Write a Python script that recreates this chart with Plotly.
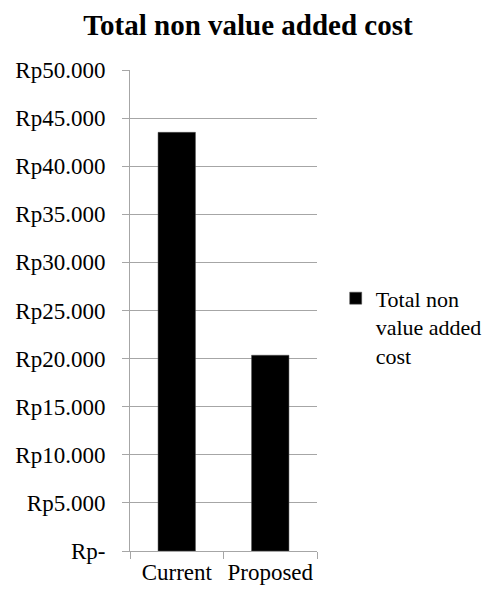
import plotly.graph_objects as go

categories = ["Current", "Proposed"]
values = [43520, 20350]
series_name = "Total non<br>value added<br>cost"
tick_vals = [0, 5000, 10000, 15000, 20000, 25000, 30000, 35000, 40000, 45000, 50000]
tick_text = ["Rp-", "Rp5.000", "Rp10.000", "Rp15.000", "Rp20.000", "Rp25.000",
             "Rp30.000", "Rp35.000", "Rp40.000", "Rp45.000", "Rp50.000"]

SERIF = "Liberation Serif"
GRID = "#a6a6a6"

fig = go.Figure()
fig.add_trace(go.Bar(
    x=categories, y=values, name=series_name,
    marker=dict(color="black", line=dict(color="#505050", width=0.5)),
    showlegend=True,
))

fig.update_layout(
    width=496, height=592,
    margin=dict(l=130, r=179, t=70, b=41, autoexpand=False),
    paper_bgcolor="white", plot_bgcolor="white",
    font=dict(family=SERIF, color="black", size=23),
    title=dict(text="<b>Total non value added cost</b>", x=0.5, xanchor="center",
               y=(592 - 25) / 592, yanchor="middle", yref="container",
               font=dict(family=SERIF, size=29, color="black")),
    bargap=0.6,
    showlegend=True,
    legend=dict(x=1.1, xanchor="left", y=0.466, yanchor="middle",
                valign="top", font=dict(family=SERIF, size=22, color="black"),
                bgcolor="rgba(0,0,0,0)", tracegroupgap=0),
    yaxis=dict(range=[0, 50000], tickvals=tick_vals, ticktext=tick_text,
               showgrid=True, gridcolor=GRID, gridwidth=1,
               showline=True, linecolor=GRID, linewidth=1,
               ticks="outside", ticklen=7, tickcolor=GRID,
               ticklabelstandoff=12, zeroline=False, automargin=False,
               tickfont=dict(family=SERIF, size=23, color="black")),
    xaxis=dict(showline=True, linecolor=GRID, linewidth=1,
               ticks="outside", ticklen=7, tickcolor=GRID,
               tickson="boundaries", showgrid=False, tickangle=0,
               automargin=False,
               tickfont=dict(family=SERIF, size=23, color="black")),
)

fig.write_html("out.html")
